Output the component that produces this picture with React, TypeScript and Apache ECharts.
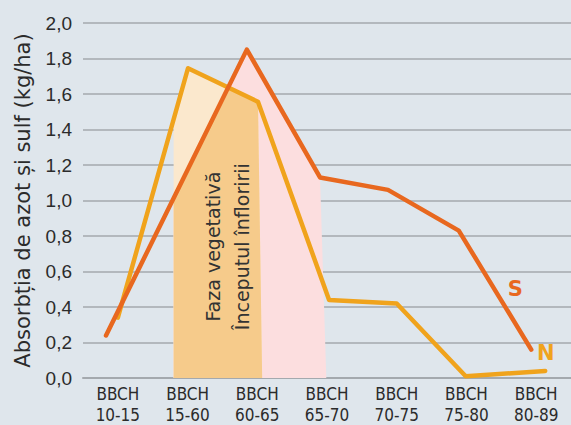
import React, { useEffect, useRef } from 'react';
import * as echarts from 'echarts';

// Categories (x axis)
const categories = ['BBCH\n10-15', 'BBCH\n15-60', 'BBCH\n60-65', 'BBCH\n65-70', 'BBCH\n70-75', 'BBCH\n75-80', 'BBCH\n80-89'];

// N (nitrogen) line: position along the category axis (index units) and value
const nX = [0, 1.006, 2.01, 3.03, 4.0, 4.99, 6.13];
const nY = [0.34, 1.745, 1.556, 0.44, 0.42, 0.01, 0.04];

// S (sulphur) line
const sX = [-0.17, 1.85, 2.9, 3.875, 4.89, 5.93];
const sY = [0.24, 1.85, 1.13, 1.06, 0.83, 0.16];

// Phase bands (index units)
const vegStart = 0.8;
const vegEnd = 2.01;
const vegEndBase = 2.07;
const flowerEnd = 2.9;
const flowerEndBase = 2.99;

const phaseLabels = ['Faza vegetativă', 'Începutul înfloririi'];
const phaseLabelX = [1.365, 1.78];
const phaseLabelY = 0.74;

const lineLabels = ['S', 'N'];
const lineLabelX = [5.7, 6.14];
const lineLabelY = [0.5, 0.14];

const colN = '#f0a31c';
const colS = '#e8681f';
const narrow = "'Liberation Sans Narrow', 'DejaVu Sans Condensed', sans-serif";

function interp(xs: number[], ys: number[], x: number): number {
  for (let i = 0; i < xs.length - 1; i++) {
    if (x >= xs[i] && x <= xs[i + 1]) {
      const t = (x - xs[i]) / (xs[i + 1] - xs[i]);
      return ys[i] + t * (ys[i + 1] - ys[i]);
    }
  }
  return x < xs[0] ? ys[0] : ys[ys.length - 1];
}

function minCurve(a: number, b: number): number[][] {
  const bx: number[] = [a, b];
  sX.forEach((x) => { if (x > a && x < b) bx.push(x); });
  nX.forEach((x) => { if (x > a && x < b) bx.push(x); });
  bx.sort((p, q) => p - q);
  const pts: number[][] = [];
  for (let i = 0; i < bx.length; i++) {
    const x = bx[i];
    const d = interp(sX, sY, x) - interp(nX, nY, x);
    pts.push([x, Math.min(interp(sX, sY, x), interp(nX, nY, x))]);
    if (i < bx.length - 1) {
      const x2 = bx[i + 1];
      const d2 = interp(sX, sY, x2) - interp(nX, nY, x2);
      if (d * d2 < 0) {
        const xi = x + (x2 - x) * (d / (d - d2));
        pts.push([xi, interp(sX, sY, xi)]);
      }
    }
  }
  return pts;
}

export default function App() {
  const ref = useRef<HTMLDivElement>(null);
  useEffect(() => {
    document.body.style.margin = '0';
    const chart = echarts.init(ref.current!, null, { renderer: 'svg' });

    const pinkPts: number[][] = [[vegStart, interp(sX, sY, vegStart)]];
    sX.forEach((x, i) => { if (x > vegStart && x <= flowerEnd) pinkPts.push([x, sY[i]]); });
    pinkPts.push([flowerEndBase, 0], [vegStart, 0]);

    const peachPts: number[][] = [[vegStart, interp(nX, nY, vegStart)]];
    nX.forEach((x, i) => { if (x > vegStart && x <= vegEnd) peachPts.push([x, nY[i]]); });
    peachPts.push([vegEndBase, 0], [vegStart, 0]);

    const orangePts: number[][] = minCurve(vegStart, vegEnd);
    orangePts.push([vegEndBase, 0], [vegStart, 0]);

    const option: any = {
      animation: false,
      backgroundColor: '#dfe6ec',
      grid: { left: 83, right: 0, top: 23, bottom: 42, containLabel: false },
      xAxis: [
        {
          type: 'category',
          data: categories,
          boundaryGap: true,
          axisLine: { show: true, lineStyle: { color: '#a4a9ae', width: 2 } },
          axisTick: { show: false },
          axisLabel: {
            color: '#2b2b2b',
            fontFamily: narrow,
            fontSize: 17,
            lineHeight: 21,
            margin: 5,
          },
        },
        {
          type: 'value',
          min: -0.5,
          max: 6.5,
          show: false,
          position: 'top',
        },
      ],
      yAxis: {
        type: 'value',
        min: 0,
        max: 2,
        interval: 0.2,
        name: 'Absorbția de azot și sulf (kg/ha)',
        nameLocation: 'middle',
        nameGap: 50,
        nameTextStyle: { color: '#2b2b2b', fontSize: 21, fontFamily: "'DejaVu Sans', sans-serif" },
        axisLine: { show: false },
        axisTick: { show: false },
        axisLabel: {
          color: '#2b2b2b',
          fontSize: 19,
          fontFamily: "'Liberation Sans', sans-serif",
          margin: 11,
          formatter: (v: number) => v.toFixed(1).replace('.', ','),
        },
        splitLine: { lineStyle: { color: '#a4a9ae', width: 1.5 } },
      },
      series: [
        {
          type: 'custom',
          xAxisIndex: 1,
          z: 1,
          silent: true,
          data: [[0, 0]],
          renderItem: (_params: any, api: any) => {
            const toPx = (pts: number[][]) => pts.map((p) => api.coord(p));
            return {
              type: 'group',
              children: [
                { type: 'polygon', shape: { points: toPx(pinkPts) }, style: { fill: '#fcdedf' } },
                { type: 'polygon', shape: { points: toPx(peachPts) }, style: { fill: '#fbe8cd' } },
                { type: 'polygon', shape: { points: toPx(orangePts) }, style: { fill: '#f6cb8b' } },
              ],
            };
          },
        },
        {
          type: 'line',
          xAxisIndex: 1,
          z: 3,
          data: nX.map((x, i) => [x, nY[i]]),
          showSymbol: false,
          lineStyle: { color: colN, width: 4.5, cap: 'round', join: 'round' },
        },
        {
          type: 'line',
          xAxisIndex: 1,
          z: 4,
          data: sX.map((x, i) => [x, sY[i]]),
          showSymbol: false,
          lineStyle: { color: colS, width: 4.5, cap: 'round', join: 'round' },
        },
        {
          type: 'custom',
          xAxisIndex: 1,
          z: 6,
          silent: true,
          data: [[0, 0]],
          renderItem: (_params: any, api: any) => {
            const children: any[] = [];
            phaseLabels.forEach((t, i) => {
              const p = api.coord([phaseLabelX[i], phaseLabelY]);
              children.push({
                type: 'text',
                x: p[0],
                y: p[1],
                rotation: Math.PI / 2,
                style: {
                  text: t,
                  fill: '#333333',
                  fontSize: 19,
                  fontFamily: "'DejaVu Sans', sans-serif",
                  align: 'center',
                  verticalAlign: 'middle',
                },
              });
            });
            lineLabels.forEach((t, i) => {
              const p = api.coord([lineLabelX[i], lineLabelY[i]]);
              children.push({
                type: 'text',
                x: p[0],
                y: p[1],
                style: {
                  text: t,
                  fill: i === 0 ? colS : colN,
                  fontSize: 21,
                  fontWeight: 'bold',
                  fontFamily: "'DejaVu Sans', sans-serif",
                  align: 'center',
                  verticalAlign: 'middle',
                },
              });
            });
            return { type: 'group', children };
          },
        },
      ],
    };
    chart.setOption(option);
    return () => chart.dispose();
  }, []);
  return <div ref={ref} style={{ width: 571, height: 425 }} />;
}
